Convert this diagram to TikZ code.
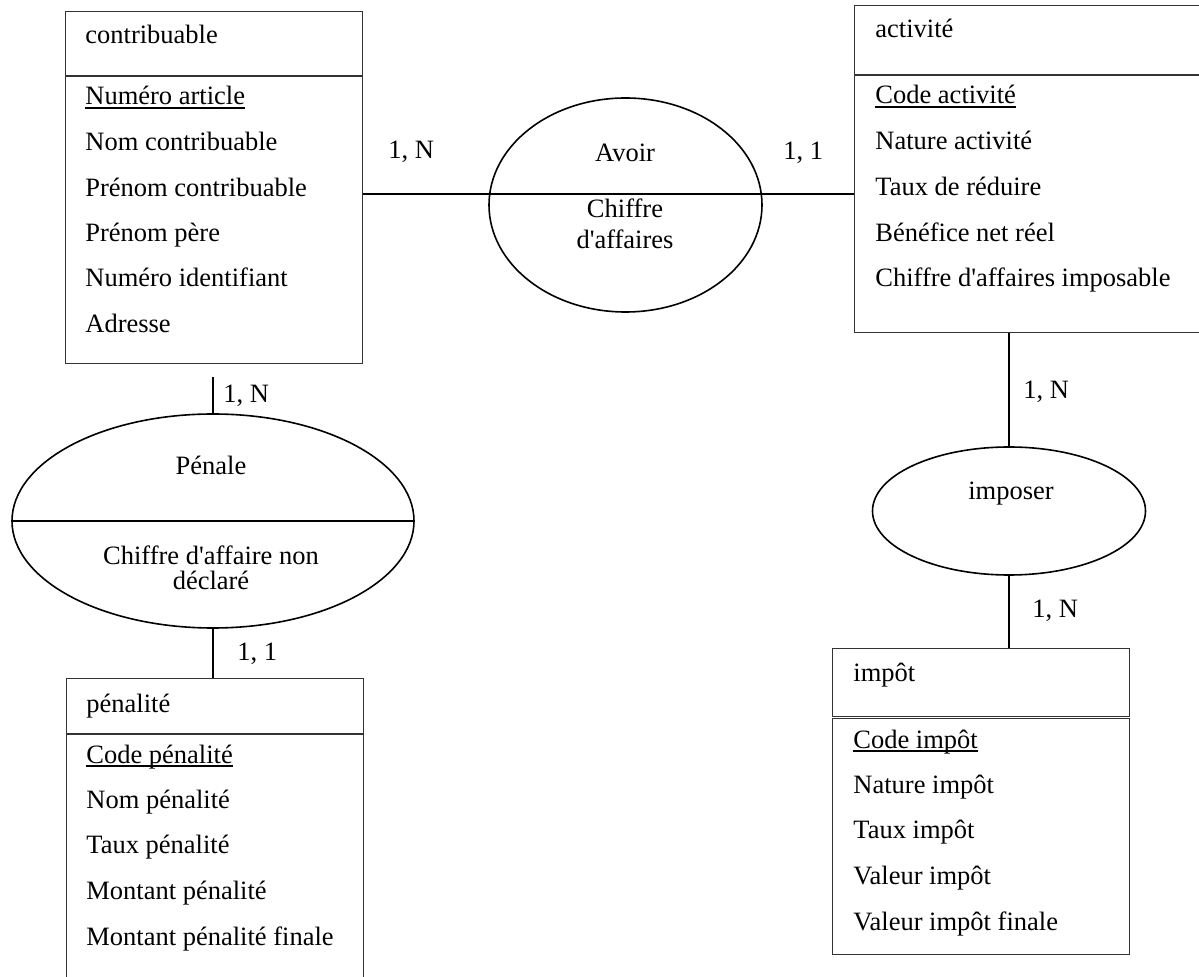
\documentclass[tikz,border=0pt]{standalone}
\usepackage{fontspec}
\setmainfont{Liberation Serif}
\usetikzlibrary{shapes.geometric,positioning,calc}

\tikzset{
  tete/.style={draw=black!80, line width=0.5pt, rectangle, anchor=north west, inner sep=0pt},
  corps/.style={draw=black!80, line width=0.5pt, rectangle, anchor=north west, inner sep=0pt},
  relation/.style={draw, line width=0.8pt, ellipse, inner sep=0pt},
  attribut/.style={anchor=base west, inner sep=0pt},
  texte/.style={anchor=base, inner sep=0pt},
  card/.style={anchor=base west, inner sep=0pt},
  lien/.style={line width=0.8pt},
  cle/.style={line width=0.6pt},
}

\begin{document}
\begin{tikzpicture}[x=0.5pt,y=-0.5pt,every node/.style={font=\fontsize{13.25}{16}\selectfont}]
\path[use as bounding box,fill=white] (0,0) rectangle (1199,977);

% contribuable
\node[tete, minimum width=148.5pt, minimum height=32pt] (contribuable) at (65,11) {};
\node[corps, minimum width=148.5pt, minimum height=143.5pt] (contribuable-attr) at (contribuable.south west) {};
\node[attribut] (contribuable-nom) at (85,44) {contribuable};
\node[attribut] (c1) at (85,105) {Numéro article};
\node[attribut] (c2) at (85,151) {Nom contribuable};
\node[attribut] (c3) at (85,197) {Prénom contribuable};
\node[attribut] (c4) at (85,242) {Prénom père};
\node[attribut] (c5) at (85,287) {Numéro identifiant};
\node[attribut] (c6) at (85,333) {Adresse};
\draw[cle] ([yshift=-1.5pt]c1.base west) -- ([yshift=-1.5pt]c1.base east);

% activite
\node[tete, minimum width=173.5pt, minimum height=34.5pt] (activite) at (854,5) {};
\node[corps, minimum width=173.5pt, minimum height=128.5pt] (activite-attr) at (activite.south west) {};
\node[attribut] (activite-nom) at (875,38) {activité};
\node[attribut] (a1) at (875,104) {Code activité};
\node[attribut] (a2) at (875,150) {Nature activité};
\node[attribut] (a3) at (875,196) {Taux de réduire};
\node[attribut] (a4) at (875,242) {Bénéfice net réel};
\node[attribut] (a5) at (875,287) {Chiffre d\textquotesingle affaires imposable};
\draw[cle] ([yshift=-1.5pt]a1.base west) -- ([yshift=-1.5pt]a1.base east);

% penalite
\node[tete, minimum width=148.5pt, minimum height=27.5pt] (penalite) at (66,678) {};
\node[corps, minimum width=148.5pt, minimum height=128.5pt] (penalite-attr) at (penalite.south west) {};
\node[attribut] (penalite-nom) at (86,712) {pénalité};
\node[attribut] (p1) at (86,763) {Code pénalité};
\node[attribut] (p2) at (86,808) {Nom pénalité};
\node[attribut] (p3) at (86,853) {Taux pénalité};
\node[attribut] (p4) at (86,899) {Montant pénalité};
\node[attribut] (p5) at (86,945) {Montant pénalité finale};
\draw[cle] ([yshift=-1.5pt]p1.base west) -- ([yshift=-1.5pt]p1.base east);

% impot
\node[tete, minimum width=148.5pt, minimum height=34pt] (impot) at (832,648) {};
\node[corps, minimum width=148.5pt, minimum height=118pt] (impot-attr) at (832,718) {};
\node[attribut] (impot-nom) at (853,682) {impôt};
\node[attribut] (i1) at (853,748) {Code impôt};
\node[attribut] (i2) at (853,793) {Nature impôt};
\node[attribut] (i3) at (853,838) {Taux impôt};
\node[attribut] (i4) at (853,884) {Valeur impôt};
\node[attribut] (i5) at (853,930) {Valeur impôt finale};
\draw[cle] ([yshift=-1.5pt]i1.base west) -- ([yshift=-1.5pt]i1.base east);

% relations
\node[relation, minimum width=136.5pt, minimum height=107pt] (avoir) at (625.5,205) {};
\node[texte] (avoir-nom) at (625,162) {Avoir};
\node[texte] (avoir-p1) at (625,218) {Chiffre};
\node[texte] (avoir-p2) at (625,249) {d\textquotesingle affaires};
\coordinate (avoir-ligne) at (625,194);

\node[relation, minimum width=201pt, minimum height=107pt] (penale) at (213,521) {};
\node[texte] (penale-nom) at (211,475) {Pénale};
\node[texte] (penale-p1) at (211,565) {Chiffre d\textquotesingle affaire non};
\node[texte] (penale-p2) at (211,590) {déclaré};
\draw[lien] (penale.west) -- (penale.east);
\coordinate (penale-haut) at ([yshift=-6.5pt]contribuable-attr.south);

\node[relation, minimum width=136.5pt, minimum height=64pt] (imposer) at (1009,511) {};
\node[texte] (imposer-nom) at (1011,500) {imposer};

% liens
\draw[lien] (contribuable-attr.east |- avoir-ligne) -- (activite-attr.west |- avoir-ligne);
\draw[lien] (penale.north |- penale-haut) -- (penale.north);
\draw[lien] (penale.south) -- (penale.south |- penalite.north);
\draw[lien] (imposer.north |- activite-attr.south) -- (imposer.north);
\draw[lien] (imposer.south) -- (imposer.south |- impot.north);

% cardinalites
\node[card] (card1) at (388,159) {1, N};
\node[card] (card2) at (783,160) {1, 1};
\node[card] (card3) at (223,403) {1, N};
\node[card] (card4) at (237,661) {1, 1};
\node[card] (card5) at (1023,399) {1, N};
\node[card] (card6) at (1032,618) {1, N};
\end{tikzpicture}
\end{document}
